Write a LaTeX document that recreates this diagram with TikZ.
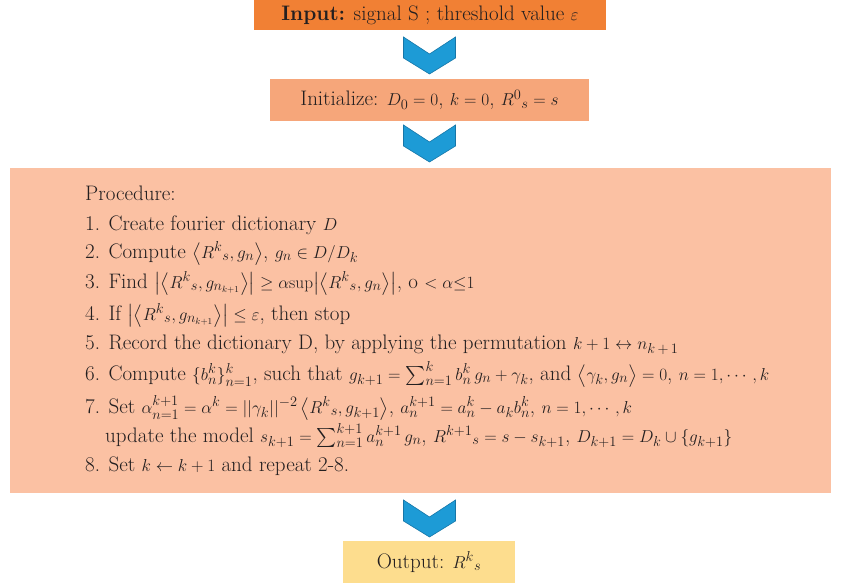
\documentclass[tikz,border=0pt]{standalone}
\usepackage{amsmath,amssymb}
\newcommand\mm[1]{{\fontsize{19}{23}\selectfont$#1$}}
\definecolor{inorange}{RGB}{241,128,52}
\definecolor{initorange}{RGB}{246,166,122}
\definecolor{procorange}{RGB}{251,193,163}
\definecolor{outyellow}{RGB}{253,221,142}
\definecolor{chevblue}{RGB}{29,155,214}
\definecolor{chevedge}{RGB}{22,118,168}
\definecolor{txt}{RGB}{35,31,32}
\begin{document}
\begin{tikzpicture}[x=1pt,y=-1pt,
  box/.style={rectangle,inner sep=0pt,draw=none,text=txt,font=\fontsize{21}{25}\selectfont},
  line/.style={anchor=base west,inner sep=0pt,text=txt,font=\fontsize{21}{25}\selectfont},
  chevstyle/.style={fill=chevblue,draw=chevedge,line width=0.6pt,line join=miter},
  chevron/.pic={\path[chevstyle] (-26,0) -- (0,17) -- (26,0) -- (26,21) -- (0,37) -- (-26,21) -- cycle;}
]
\useasboundingbox (0,0) rectangle (841,584);
\node[box,fill=inorange,minimum width=352pt,minimum height=30pt] (input) at (430,15)
  {\textbf{Input:} signal S ; threshold value \mm{\varepsilon}};
\node[box,fill=initorange,minimum width=319pt,minimum height=42pt] (init) at (429.5,100)
  {Initialize: \mm{D_0 = 0}, \mm{k = 0}, \mm{R^0{}_s = s}};
\node[box,fill=procorange,minimum width=821pt,minimum height=325pt] (proc) at (420.5,330.5) {};
\node[box,fill=outyellow,minimum width=172pt,minimum height=42pt] (output) at (429,562)
  {Output: \mm{R^k{}_s}};

\coordinate (c1) at (429.5,37);
\coordinate (c2) at (429.5,125);
\coordinate (c3) at (429.5,500);
\pic at (c1) {chevron};
\pic at (c2) {chevron};
\pic at (c3) {chevron};

\node[line] (l0) at (85,200) {Procedure:};
\node[line] (l1) at (85,230) {1. Create fourier dictionary \mm{D}};
\node[line] (l2) at (85,258) {2. Compute \mm{\bigl\langle R^k{}_s, g_n\bigr\rangle}, \mm{g_n \in D/D_k}};
\node[line] (l3) at (85,288) {3. Find \mm{\bigl|\bigl\langle R^k{}_s, g_{n_{k+1}}\bigr\rangle\bigr| \geq \alpha\mathrm{sup}\bigl|\bigl\langle R^k{}_s, g_n\bigr\rangle\bigr|}, o \mm{<\alpha{\leq}1}};
\node[line] (l4) at (85,320) {4. If \mm{\bigl|\bigl\langle R^k{}_s, g_{n_{k+1}}\bigr\rangle\bigr| \leq \varepsilon}, then stop};
\node[line] (l5) at (85,349) {5. Record the dictionary D, by applying the permutation \mm{k+1 \leftrightarrow n_{k\,+\,1}}};
\node[line] (l6) at (85,380) {6. Compute \mm{\{b^k_n\}^k_{n=1}}, such that \mm{g_{k+1} = \sum^k_{n=1} b^k_n\, g_n + \gamma_k}, and \mm{\bigl\langle \gamma_k, g_n\bigr\rangle = 0}, \mm{n = 1, \cdots, k}};
\node[line] (l7) at (85,413) {7. Set \mm{\alpha^{k+1}_{n=1} = \alpha^k = ||\gamma_k||^{-2}\,\bigl\langle R^k{}_s, g_{k+1}\bigr\rangle}, \mm{a^{k+1}_n = a^k_n - a_k b^k_n}, \mm{n = 1, \cdots, k}};
\node[line] (l7b) at (105,442) {update the model \mm{s_{k+1} = \sum^{k+1}_{n=1} a^{k+1}_n\, g_n}, \mm{R^{k+1}{}_s = s - s_{k+1}}, \mm{D_{k+1} = D_k \cup \{g_{k+1}\}}};
\node[line] (l8) at (85,471) {8. Set \mm{k \leftarrow k+1} and repeat 2-8.};
\end{tikzpicture}
\end{document}
